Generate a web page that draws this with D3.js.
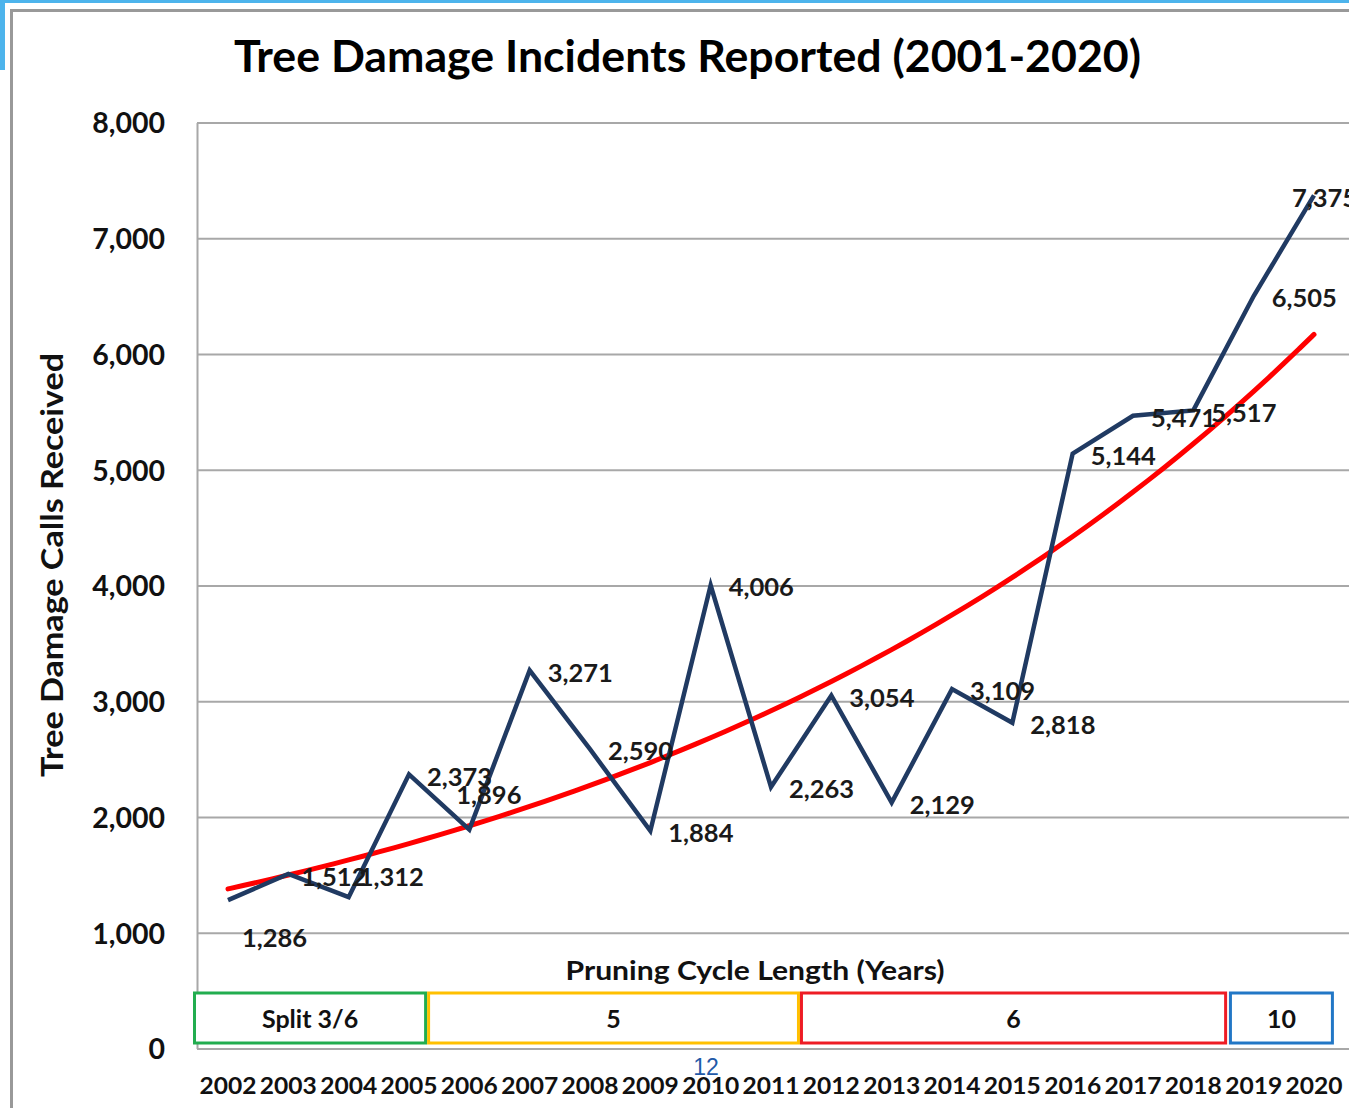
<!DOCTYPE html>
<html>
<head>
<meta charset="utf-8">
<script src="https://cdn.jsdelivr.net/npm/d3@7/dist/d3.min.js"></script>
<style>
  html, body { margin: 0; padding: 0; background: #fff; }
  svg { display: block; font-family: Lato, "Open Sans", sans-serif; }
</style>
</head>
<body>
<div id="chart"></div>
<script>
// values
const years = [2002, 2003, 2004, 2005, 2006, 2007, 2008, 2009, 2010, 2011,
               2012, 2013, 2014, 2015, 2016, 2017, 2018, 2019, 2020];
const calls = [1286, 1512, 1312, 2373, 1896, 3271, 2590, 1884, 4006, 2263,
               3054, 2129, 3109, 2818, 5144, 5471, 5517, 6505, 7375];
const yTicks = [0, 1000, 2000, 3000, 4000, 5000, 6000, 7000, 8000];

// pruning cycle bands (in years along the x axis)
const cycleLabels = ["Split 3/6", "5", "6", "10"];
const cycleStart = [2001.42, 2005.30, 2011.48, 2018.59];
const cycleEnd   = [2005.30, 2011.48, 2018.56, 2020.33];
const cycleColors = ["#22ad4f", "#ffc000", "#ee1c24", "#2277c6"];

// label nudges that Excel/the author applied (default: right of point)
const labelNudge = {0: [14, 38], 1: [13, 3], 2: [10, -20], 4: [-13, -35], 18: [-22, 2]};

const width = 1349, height = 1108;

const svg = d3.select("#chart").append("svg")
    .attr("width", width)
    .attr("height", height);

// slide decoration: blue strips + grey chart frame
svg.append("rect").attr("x", 0).attr("y", 0).attr("width", width).attr("height", 3).attr("fill", "#4db4ec");
svg.append("rect").attr("x", 0).attr("y", 0).attr("width", 5).attr("height", 70).attr("fill", "#4db4ec");
svg.append("path")
    .attr("d", `M11.5,${height} V10.5 H${width}`)
    .attr("fill", "none")
    .attr("stroke", "#999")
    .attr("stroke-width", 3);

let x = d3.scaleLinear().domain([2002, 2020]).range([228, 1314]);
let y = d3.scaleLinear().domain([0, 8000]).range([1049, 123]);

// gridlines
svg.append("g")
  .selectAll("line")
  .data(yTicks)
  .join("line")
    .attr("x1", 197)
    .attr("x2", width)
    .attr("y1", d => y(d))
    .attr("y2", d => y(d))
    .attr("stroke", "#a8a8a8")
    .attr("stroke-width", 2);

svg.append("line")
    .attr("x1", 197.5).attr("x2", 197.5)
    .attr("y1", y(8000)).attr("y2", y(0))
    .attr("stroke", "#a8a8a8")
    .attr("stroke-width", 2);

// y tick labels
svg.append("g")
  .selectAll("text")
  .data(yTicks)
  .join("text")
    .attr("x", 165)
    .attr("y", d => y(d))
    .attr("dy", "0.36em")
    .attr("text-anchor", "end")
    .attr("font-size", "28.5px")
    .attr("font-weight", "bold")
    .attr("fill", "#111")
    .text(d => d3.format(",")(d));

// title
svg.append("text")
    .attr("x", 234)
    .attr("y", 72)
    .attr("font-size", "44px")
    .attr("font-weight", "bold")
    .attr("fill", "#000")
    .attr("textLength", 907)
    .attr("lengthAdjust", "spacingAndGlyphs")
    .text("Tree Damage Incidents Reported (2001-2020)");

// y axis title
svg.append("text")
    .attr("transform", "translate(63,565) rotate(-90)")
    .attr("text-anchor", "middle")
    .attr("font-size", "31px")
    .attr("font-weight", "bold")
    .attr("fill", "#111")
    .attr("textLength", 424)
    .attr("lengthAdjust", "spacingAndGlyphs")
    .text("Tree Damage Calls Received");

// pruning cycle title + boxes
svg.append("text")
    .attr("x", 755)
    .attr("y", 980)
    .attr("text-anchor", "middle")
    .attr("font-size", "26px")
    .attr("font-weight", "bold")
    .attr("fill", "#111")
    .attr("textLength", 379)
    .attr("lengthAdjust", "spacingAndGlyphs")
    .text("Pruning Cycle Length (Years)");

let boxes = svg.append("g")
  .selectAll("g")
  .data(cycleLabels)
  .join("g");

boxes.append("rect")
    .attr("x", (d, i) => x(cycleStart[i]) + 1.5)
    .attr("y", 993)
    .attr("width", (d, i) => x(cycleEnd[i]) - x(cycleStart[i]) - 3)
    .attr("height", 50)
    .attr("fill", "#fff")
    .attr("stroke", (d, i) => cycleColors[i])
    .attr("stroke-width", 3);

boxes.append("text")
    .attr("x", (d, i) => (x(cycleStart[i]) + x(cycleEnd[i])) / 2)
    .attr("y", 1019)
    .attr("dy", "0.36em")
    .attr("text-anchor", "middle")
    .attr("font-size", "25px")
    .attr("font-weight", "bold")
    .attr("fill", "#111")
    .text(d => d);

// year labels
svg.append("g")
  .selectAll("text")
  .data(years)
  .join("text")
    .attr("x", d => x(d))
    .attr("y", 1086)
    .attr("dy", "0.36em")
    .attr("text-anchor", "middle")
    .attr("font-size", "23px")
    .attr("font-weight", "bold")
    .attr("fill", "#111")
    .attr("textLength", 57)
    .attr("lengthAdjust", "spacingAndGlyphs")
    .text(d => d);

// slide page number
svg.append("text")
    .attr("x", 706)
    .attr("y", 1075)
    .attr("text-anchor", "middle")
    .attr("font-family", "'Liberation Sans', Arial, sans-serif")
    .attr("font-size", "23px")
    .attr("fill", "#1f5aa8")
    .text("12");

// exponential trendline fitted to the data (least squares on ln y)
let idx = years.map((d, i) => i);
let lnY = calls.map(v => Math.log(v));
let mx = d3.mean(idx), my = d3.mean(lnY);
let b = d3.sum(idx, i => (i - mx) * (lnY[i] - my)) / d3.sum(idx, i => (i - mx) * (i - mx));
let a = my - b * mx;
let trend = d3.range(0, years.length - 1 + 0.001, 0.25).map(t => [years[0] + t, Math.exp(a + b * t)]);

svg.append("path")
    .datum(trend)
    .attr("fill", "none")
    .attr("stroke", "#ff0000")
    .attr("stroke-width", 5)
    .attr("stroke-linecap", "round")
    .attr("d", d3.line().x(d => x(d[0])).y(d => y(d[1])).curve(d3.curveBasis));

// data line
svg.append("path")
    .datum(calls)
    .attr("fill", "none")
    .attr("stroke", "#203a62")
    .attr("stroke-width", 4.5)
    .attr("stroke-linejoin", "miter")
    .attr("d", d3.line().x((d, i) => x(years[i])).y(d => y(d)));

// data labels
svg.append("g")
  .selectAll("text")
  .data(calls)
  .join("text")
    .attr("x", (d, i) => x(years[i]) + (labelNudge[i] ? labelNudge[i][0] : 18))
    .attr("y", (d, i) => y(d) + (labelNudge[i] ? labelNudge[i][1] : 2))
    .attr("dy", "0.36em")
    .attr("font-size", "25.5px")
    .attr("font-weight", "bold")
    .attr("fill", "#1a1a1a")
    .text(d => d3.format(",")(d));
</script>
</body>
</html>
